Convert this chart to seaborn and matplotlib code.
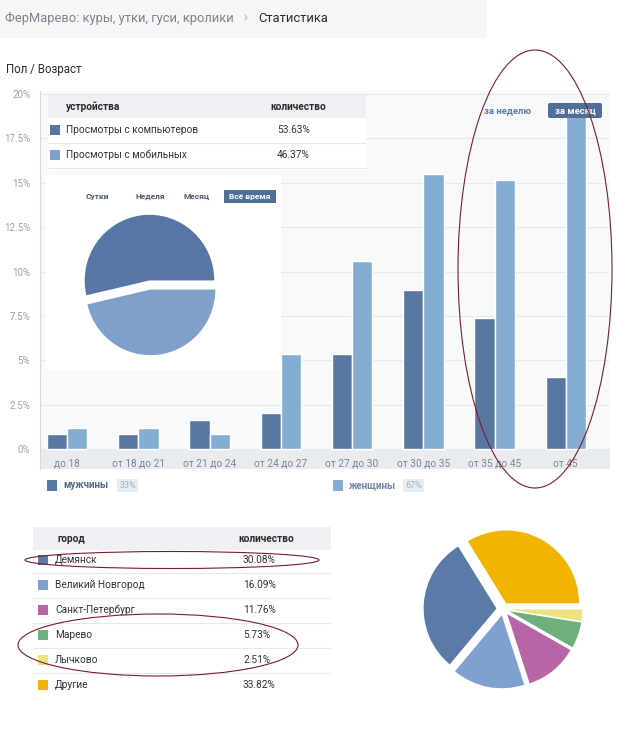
import matplotlib
matplotlib.use("Agg")
import matplotlib.pyplot as plt
import seaborn as sns
import pandas as pd
from matplotlib.patches import Rectangle, Ellipse, FancyBboxPatch

# ---------------- data ----------------
age_groups = ["до 18", "от 18 до 21", "от 21 до 24", "от 24 до 27",
              "от 27 до 30", "от 30 до 35", "от 35 до 45", "от 45"]
men = [0.85, 0.85, 1.65, 2.05, 5.35, 8.95, 7.4, 4.05]
women = [1.2, 1.2, 0.85, 5.35, 10.6, 15.5, 15.15, 19.0]
y_ticks = [0, 2.5, 5, 7.5, 10, 12.5, 15, 17.5, 20]
y_tick_labels = ["0%", "2.5%", "5%", "7.5%", "10%", "12.5%", "15%", "17.5%", "20%"]
sex_labels = ["мужчины", "женщины"]
sex_shares = ["33%", "67%"]
device_labels = ["Просмотры с компьютеров", "Просмотры с мобильных"]
device_values = [53.63, 46.37]
period_tabs = ["Сутки", "Неделя", "Месяц", "Всё время"]
range_tabs = ["за неделю", "за месяц"]
cities = ["Демянск", "Великий Новгород", "Санкт-Петербург", "Марево", "Лычково", "Другие"]
city_values = [30.08, 16.09, 11.76, 5.73, 2.51, 33.82]

# ---------------- style ----------------
sns.set_theme(style="white")
plt.rcParams["font.family"] = ["Roboto", "DejaVu Sans"]

C_MEN = "#5878a2"
C_WOMEN = "#85add3"
C_PIE_DARK = "#5876a3"
C_PIE_LIGHT = "#80a0cc"
CITY_COLORS = ["#5a7aa8", "#7fa1cf", "#b865a8", "#6db07b", "#ebe37e", "#f3b400"]
DARK_TXT = "#2a2a2a"
ELL = "#7c1b2c"

W, H = 632, 729
fig = plt.figure(figsize=(W / 100, H / 100), dpi=100)
fig.patch.set_facecolor("white")


def fx(x):
    return x / W


def fy(y):
    return 1 - y / H


def px_axes(x0, y0, x1, y1, z=5):
    a = fig.add_axes([fx(x0), fy(y1), (x1 - x0) / W, (y1 - y0) / H], zorder=z)
    a.set_xlim(0, x1 - x0)
    a.set_ylim(y1 - y0, 0)
    a.axis("off")
    return a


# ---------------- header ----------------
fig.patches.append(Rectangle((0, fy(38)), fx(487), 38 / H, transform=fig.transFigure,
                             facecolor="#f5f6f7", edgecolor="none", zorder=0))
fig.text(fx(5), fy(18), "ФерМарево: куры, утки, гуси, кролики", color="#7a838e",
         fontsize=9.3, va="center", ha="left")
fig.text(fx(245), fy(18), "›", color="#a0a6ad", fontsize=9.3, va="center", ha="center")
fig.text(fx(258), fy(18), "Статистика", color=DARK_TXT, fontsize=9.3, va="center", ha="left")
fig.text(fx(6), fy(70), "Пол / Возраст", color=DARK_TXT, fontsize=8.3, va="center", ha="left")

# ---------------- main bar chart ----------------
ax = fig.add_axes([fx(40), fy(468.5), 570 / W, 378 / H], zorder=1)
df = pd.DataFrame({
    "group": age_groups * 2,
    "value": men + women,
    "sex": [sex_labels[0]] * len(men) + [sex_labels[1]] * len(women),
})
sns.barplot(data=df, x="group", y="value", hue="sex", order=age_groups,
            hue_order=sex_labels, palette=[C_MEN, C_WOMEN], width=0.57,
            gap=0, saturation=1, ax=ax, legend=False, zorder=3)
ax.set_axisbelow(False)
ax.set_facecolor("#f8f9fa")
ax.set_xlim(-0.38, 7.62)
ax.set_ylim(-1.1, 20.2)
ax.axhspan(-1.1, 0, color="#e9ecef", zorder=0.2, lw=0)
ax.set_yticks(y_ticks)
ax.set_yticklabels(y_tick_labels)
for t in y_ticks:
    ax.axhline(t, color="#e6e8eb", lw=0.8, zorder=0.1)
ax.tick_params(axis="y", length=0, pad=7, labelsize=7, labelcolor="#9aa0a8")
ax.tick_params(axis="x", length=0, pad=-7, labelsize=7.3, labelcolor="#7d8590")
ax.set_xlabel("")
ax.set_ylabel("")
for s in ["top", "right", "bottom"]:
    ax.spines[s].set_visible(False)
ax.spines["left"].set_color("#d5d8dc")
ax.spines["left"].set_linewidth(0.8)

# range tabs on the chart
fig.text(fx(508), fy(111), range_tabs[0], color="#5d7ba3", fontsize=6.8,
         fontweight="bold", ha="center", va="center", zorder=6)
fig.patches.append(FancyBboxPatch((fx(548), fy(118)), fx(54), 15 / H,
                                  boxstyle="round,pad=0,rounding_size=0.003",
                                  transform=fig.transFigure, facecolor="#4f6f98",
                                  edgecolor="none", zorder=5))
fig.text(fx(575), fy(111), range_tabs[1], color="white", fontsize=6.8,
         fontweight="bold", ha="center", va="center", zorder=6)

# ---------------- device table overlay ----------------
ta = px_axes(48, 95, 366, 170, z=5)
ta.add_patch(Rectangle((0, 0), 318, 75, facecolor="white", edgecolor="none"))
ta.add_patch(Rectangle((0, 0), 318, 23, facecolor="#eef0f3", edgecolor="none"))
ta.text(18, 12, "устройства", fontsize=7.3, fontweight="bold", color=DARK_TXT, va="center")
ta.text(222, 12, "количество", fontsize=7.3, fontweight="bold", color=DARK_TXT, va="center")
for i, (lab, val, col) in enumerate(zip(device_labels, device_values, [C_PIE_DARK, C_PIE_LIGHT])):
    yc = 35 + i * 25
    ta.add_patch(Rectangle((2, yc - 5), 10, 10, facecolor=col, edgecolor="none"))
    ta.text(18, yc, lab, fontsize=7.3, color="#333", va="center")
    ta.text(229, yc, f"{val:.2f}%", fontsize=7.3, color="#333", va="center")
    ta.plot([0, 318], [yc + 12.5, yc + 12.5], color="#e6e8eb", lw=0.8)

# ---------------- device pie overlay ----------------
pa = px_axes(45, 175, 281, 370, z=5)
pa.add_patch(Rectangle((0, 0), 236, 195, facecolor="white", edgecolor="none"))
tab_x = [52, 105, 152]
for tx, lab in zip(tab_x, period_tabs[:3]):
    pa.text(tx, 21, lab, fontsize=6, fontweight="bold", color="#4a5a70", ha="center", va="center")
pa.add_patch(Rectangle((179, 15), 52, 13, facecolor="#4f6f98", edgecolor="none"))
pa.text(205, 21.5, period_tabs[3], fontsize=6, fontweight="bold", color="white",
        ha="center", va="center")

pie1 = fig.add_axes([fx(69), fy(367), 162 / W, 164 / H], zorder=6)
pie1.pie(device_values, colors=[C_PIE_DARK, C_PIE_LIGHT], startangle=0,
         counterclock=True, explode=[0.07, 0.07],
         wedgeprops=dict(edgecolor="none"))
pie1.set_aspect("auto")
pie1.axis("off")

# ---------------- sex legend ----------------
for (x0, lab, share, col, tc) in [(47, sex_labels[0], sex_shares[0], C_MEN, "#506a8c"),
                                  (333, sex_labels[1], sex_shares[1], C_WOMEN, "#6f86a3")]:
    fig.patches.append(Rectangle((fx(x0), fy(491)), 10 / W, 11 / H, transform=fig.transFigure,
                                 facecolor=col, edgecolor="none"))
    fig.text(fx(x0 + 16), fy(485.5), lab, fontsize=7, fontweight="bold",
             color=tc, va="center")
    bx = x0 + 70
    fig.patches.append(Rectangle((fx(bx), fy(492)), 21 / W, 13 / H, transform=fig.transFigure,
                                 facecolor="#e8edf2", edgecolor="none"))
    fig.text(fx(bx + 10.5), fy(485.5), share, fontsize=6.5, color="#9fb2c6",
             va="center", ha="center")

# ---------------- city table ----------------
ct = px_axes(33, 527, 331, 698, z=5)
ct.add_patch(Rectangle((0, 0), 298, 23, facecolor="#eef0f3", edgecolor="none"))
ct.text(24, 11.5, "город", fontsize=7.3, fontweight="bold", color=DARK_TXT, va="center")
ct.text(205, 11.5, "количество", fontsize=7.3, fontweight="bold", color=DARK_TXT, va="center")
for i, (city, val, col) in enumerate(zip(cities, city_values, CITY_COLORS)):
    yc = 33 + i * 25
    ct.add_patch(Rectangle((5, yc - 5), 10, 10, facecolor=col, edgecolor="none"))
    ct.text(22, yc, city, fontsize=7.3, color="#333", va="center")
    ct.text(210, yc, f"{val:.2f}%", fontsize=7.3, color="#333", va="center")
    if i < len(cities) - 1:
        ct.plot([0, 298], [yc + 12.5, yc + 12.5], color="#e6e8eb", lw=0.8)

# ---------------- city pie ----------------
order = [5, 0, 1, 2, 3, 4]
pie2 = fig.add_axes([fx(412), fy(700), 182 / W, 182 / H], zorder=5)
pie2.pie([city_values[i] for i in order], colors=[CITY_COLORS[i] for i in order],
         startangle=0, counterclock=True, explode=[0.09] * 6,
         wedgeprops=dict(edgecolor="none"))
pie2.set_aspect("auto")
pie2.axis("off")

# ---------------- red hand-drawn ellipses ----------------
for (cx, cy, w, h) in [(535, 269, 154, 438), (172, 560, 294, 17), (158, 645, 280, 62)]:
    fig.patches.append(Ellipse((fx(cx), fy(cy)), w / W, h / H, transform=fig.transFigure,
                               facecolor="none", edgecolor=ELL, lw=0.8, zorder=10))

fig.savefig("out.png", dpi=100, facecolor="white")
